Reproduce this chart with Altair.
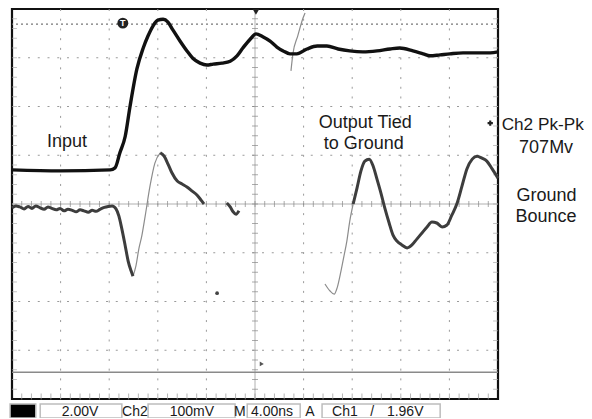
import altair as alt
import pandas as pd

# ---- Ch1 "Input" trace (x in divisions 0..10, y in divisions -4..4)
ch1_x = [0.00, 0.99, 2.02, 2.12, 2.22, 2.33, 2.43, 2.57, 2.70, 2.80, 2.90, 3.00, 3.11, 3.21, 3.31,
         3.46, 3.60, 3.72, 3.87, 4.01, 4.14, 4.32, 4.49, 4.63, 4.75, 4.90, 5.02, 5.16, 5.31, 5.45,
         5.58, 5.72, 5.86, 6.07, 6.28, 6.48, 6.71, 6.95, 7.22, 7.51, 7.78, 7.98, 8.25, 8.46, 8.60,
         8.81, 9.01, 9.28, 9.57, 9.84, 10.00]
ch1_y = [0.70, 0.68, 0.70, 0.74, 1.05, 1.39, 2.01, 2.77, 3.20, 3.45, 3.65, 3.77, 3.79, 3.73, 3.57,
         3.34, 3.14, 2.99, 2.89, 2.85, 2.87, 2.89, 2.93, 3.04, 3.20, 3.38, 3.49, 3.43, 3.34, 3.22,
         3.14, 3.08, 3.08, 3.18, 3.24, 3.24, 3.18, 3.14, 3.12, 3.14, 3.18, 3.20, 3.14, 3.08, 3.04,
         3.06, 3.08, 3.10, 3.10, 3.10, 3.12]

# ---- Ch2 "Ground Bounce" trace, bright (dense) parts
ch2_flat_x = [0.00, 0.08, 0.16, 0.25, 0.33, 0.41, 0.49, 0.58, 0.66, 0.74, 0.82, 0.91, 0.99, 1.07,
              1.15, 1.24, 1.32, 1.40, 1.48, 1.57, 1.65, 1.73, 1.81, 1.90, 1.98, 2.06, 2.14, 2.20,
              2.26, 2.33, 2.39, 2.45, 2.49]
ch2_flat_y = [-0.08, -0.04, -0.06, -0.10, -0.05, -0.09, -0.04, -0.08, -0.11, -0.06, -0.09, -0.12,
              -0.09, -0.14, -0.11, -0.13, -0.16, -0.12, -0.14, -0.17, -0.13, -0.15, -0.11, -0.07,
              -0.05, -0.04, -0.10, -0.25, -0.51, -0.86, -1.17, -1.37, -1.48]
ch2_hump_x = [3.05, 3.13, 3.21, 3.29, 3.40, 3.50, 3.60, 3.70, 3.81, 3.89, 3.95]
ch2_hump_y = [1.05, 0.98, 0.82, 0.64, 0.47, 0.41, 0.35, 0.27, 0.18, 0.08, 0.00]
ch2_blob_x = [4.42, 4.49, 4.55, 4.61, 4.67]
ch2_blob_y = [0.02, -0.06, -0.16, -0.21, -0.14]
ch2_wave_x = [7.02, 7.10, 7.18, 7.26, 7.35, 7.43, 7.51, 7.59, 7.67, 7.76, 7.84, 7.92, 8.02, 8.13,
              8.23, 8.33, 8.44, 8.54, 8.64, 8.74, 8.85, 8.95, 9.05, 9.16, 9.26, 9.36, 9.47, 9.57,
              9.67, 9.77, 9.88, 10.00]
ch2_wave_y = [0.00, 0.33, 0.68, 0.88, 0.92, 0.78, 0.51, 0.23, -0.08, -0.39, -0.64, -0.76, -0.84,
              -0.90, -0.84, -0.72, -0.59, -0.47, -0.37, -0.39, -0.47, -0.43, -0.23, 0.02, 0.37,
              0.72, 0.92, 0.98, 0.94, 0.88, 0.72, 0.53]

# ---- Ch2 faint (fast edge) parts
ch2_rise1_x = [2.49, 2.55, 2.61, 2.67, 2.74, 2.84, 2.94, 3.05]
ch2_rise1_y = [-1.48, -1.27, -0.92, -0.66, -0.25, 0.37, 0.84, 1.05]
ch2_dip2_x = [6.44, 6.54, 6.63, 6.69, 6.77, 6.83, 6.89, 6.95, 7.02]
ch2_dip2_y = [-1.64, -1.78, -1.85, -1.72, -1.37, -1.07, -0.76, -0.35, 0.00]
ch2_spike_x = [5.74, 5.78, 5.88, 5.99, 6.03]
ch2_spike_y = [2.73, 3.08, 3.45, 3.82, 3.92]
ch2_dot_x = [4.22]
ch2_dot_y = [-1.83]

# ---- Annotations
note_text = ["Input", "Output Tied", "to Ground", "Ch2 Pk-Pk", "707Mv", "Ground", "Bounce"]
note_x = [1.13, 7.27, 7.24, 10.92, 10.99, 11.00, 10.99]
note_y = [1.17, 1.56, 1.13, 1.52, 1.05, 0.06, -0.37]
note_size = [18, 18, 18, 17.2, 18, 18, 18]

# ---- Status bar
box_x = [-0.04, 0.58, 2.80, 4.84, 6.38]
box_x2 = [0.49, 2.26, 4.59, 5.93, 8.81]
box_fill = ["black", "white", "white", "white", "white"]
status_text = ["2.00V", "Ch2", "100mV", "M", "4.00ns", "A", "Ch1", "/", "1.96V"]
status_x = [1.40, 2.53, 3.70, 4.69, 5.35, 6.13, 6.85, 7.41, 8.09]

FONT = "Liberation Sans"

xs = alt.Scale(domain=[0, 10], nice=False, zero=False)
ys = alt.Scale(domain=[-4, 4], nice=False, zero=False)
X = lambda f: alt.X(f, type="quantitative", scale=xs, axis=None)
Y = lambda f: alt.Y(f, type="quantitative", scale=ys, axis=None)


def seg_frame(pairs):
    rows = []
    for name, (sx, sy) in pairs.items():
        for a, b in zip(sx, sy):
            rows.append({"seg": name, "x": a, "y": b})
    return pd.DataFrame(rows)


# grid
vgrid = pd.DataFrame({"x": [1, 2, 3, 4, 6, 7, 8, 9]})
hgrid = pd.DataFrame({"y": [-3, -2, -1, 1, 2, 3]})
grid_v = alt.Chart(vgrid).mark_rule(color="#9a9a9a", strokeWidth=1, strokeDash=[2, 7.72]).encode(x=X("x"))
grid_h = alt.Chart(hgrid).mark_rule(color="#9a9a9a", strokeWidth=1, strokeDash=[2, 7.75]).encode(y=Y("y"))
center = pd.DataFrame({"x": [5], "y": [0]})
center_v = alt.Chart(center).mark_rule(color="#b0b0b0", strokeWidth=1).encode(x=X("x"))
center_h = alt.Chart(center).mark_rule(color="#b0b0b0", strokeWidth=1).encode(y=Y("y"))

minor_x = [round(i * 0.2, 2) for i in range(1, 50)]
minor_y = [round(-4 + i * 0.2, 2) for i in range(1, 40)]
tick_h = alt.Chart(pd.DataFrame({"x": minor_x, "y": 0})).mark_tick(
    orient="vertical", color="#888", size=6, thickness=1).encode(x=X("x"), y=Y("y"))
tick_v = alt.Chart(pd.DataFrame({"y": minor_y, "x": 5})).mark_tick(
    orient="horizontal", color="#888", size=6, thickness=1).encode(x=X("x"), y=Y("y"))
tick_b = alt.Chart(pd.DataFrame({"x": minor_x, "y": -3.95})).mark_tick(
    orient="vertical", color="#999", size=6, thickness=1).encode(x=X("x"), y=Y("y"))
tick_l = alt.Chart(pd.DataFrame({"y": minor_y, "x": 0.05})).mark_tick(
    orient="horizontal", color="#aaa", size=5, thickness=1).encode(x=X("x"), y=Y("y"))
tick_r = alt.Chart(pd.DataFrame({"y": minor_y, "x": 9.95})).mark_tick(
    orient="horizontal", color="#aaa", size=5, thickness=1).encode(x=X("x"), y=Y("y"))

# cursor lines
cur = pd.DataFrame({"y": [3.69]})
cursor_top = alt.Chart(cur).mark_rule(color="#777", strokeWidth=1.2, strokeDash=[2, 3]).encode(y=Y("y"))
gnd = pd.DataFrame({"y": [-3.45]})
cursor_bot = alt.Chart(gnd).mark_rule(color="#8a8a8a", strokeWidth=1.5).encode(y=Y("y"))

# traces
ch1 = alt.Chart(pd.DataFrame({"x": ch1_x, "y": ch1_y})).mark_line(
    color="#111", strokeWidth=3.4, interpolate="monotone").encode(x=X("x"), y=Y("y"))

dark = seg_frame({"flat": (ch2_flat_x, ch2_flat_y), "hump": (ch2_hump_x, ch2_hump_y),
                  "blob": (ch2_blob_x, ch2_blob_y), "wave": (ch2_wave_x, ch2_wave_y)})
faint = seg_frame({"rise": (ch2_rise1_x, ch2_rise1_y), "dip": (ch2_dip2_x, ch2_dip2_y),
                   "spike": (ch2_spike_x, ch2_spike_y)})
ch2_dark = alt.Chart(dark).mark_line(color="#3d3d3d", strokeWidth=3, interpolate="monotone").encode(
    x=X("x"), y=Y("y"), detail="seg:N")
ch2_faint = alt.Chart(faint).mark_line(color="#8c8c8c", strokeWidth=1.2, interpolate="monotone").encode(
    x=X("x"), y=Y("y"), detail="seg:N")
ch2_dot = alt.Chart(pd.DataFrame({"x": ch2_dot_x, "y": ch2_dot_y})).mark_point(
    filled=True, color="#444", size=14, opacity=1).encode(x=X("x"), y=Y("y"))

# scope markers
trig = pd.DataFrame({"x": [2.28], "y": [3.71], "t": ["T"]})
trig_pt = alt.Chart(trig).mark_point(filled=True, color="#222", size=120, opacity=1).encode(x=X("x"), y=Y("y"))
trig_t = alt.Chart(trig).mark_text(color="white", fontSize=9, fontWeight="bold", font=FONT,
                                   baseline="middle").encode(x=X("x"), y=Y("y"), text="t:N")
top_mk = alt.Chart(pd.DataFrame({"x": [5.02], "y": [3.94]})).mark_point(
    shape="triangle-down", filled=True, color="#222", size=45, opacity=1).encode(x=X("x"), y=Y("y"))
ref_mk = alt.Chart(pd.DataFrame({"x": [9.84], "y": [1.66]})).mark_point(
    shape="cross", filled=True, color="#222", size=28, opacity=1).encode(x=X("x"), y=Y("y"))
gnd_mk = alt.Chart(pd.DataFrame({"x": [5.14], "y": [-3.28]})).mark_point(
    shape="triangle-right", filled=True, color="#555", size=22, opacity=1).encode(x=X("x"), y=Y("y"))

# annotations
notes = alt.Chart(pd.DataFrame({"t": note_text, "x": note_x, "y": note_y, "s": note_size})).mark_text(
    font=FONT, color="#1a1a1a", align="center", baseline="alphabetic").encode(
    x=X("x"), y=Y("y"), text="t:N", size=alt.Size("s:Q", scale=None, legend=None))

# status bar
boxes = alt.Chart(pd.DataFrame({"x": box_x, "x2": box_x2, "f": box_fill, "y": -4.10, "y2": -4.39})).mark_rect(
    stroke="#bdbdbd", strokeWidth=1.5).encode(
    x=X("x"), x2="x2", y=Y("y"), y2="y2", fill=alt.Fill("f:N", scale=None))
status = alt.Chart(pd.DataFrame({"t": status_text, "x": status_x, "y": -4.35})).mark_text(
    font=FONT, fontSize=14, color="#1a1a1a", align="center", baseline="alphabetic").encode(
    x=X("x"), y=Y("y"), text="t:N")

chart = alt.layer(
    grid_v, grid_h, center_v, center_h, tick_h, tick_v, tick_b, tick_l, tick_r,
    cursor_top, cursor_bot, ch2_faint, ch2_dark, ch2_dot, ch1,
    trig_pt, trig_t, top_mk, ref_mk, gnd_mk, notes, boxes, status
).properties(
    width=486, height=390,
    autosize=alt.AutoSizeParams(type="none"),
    padding={"left": 4, "top": 1, "right": 86, "bottom": 19},
    background="white",
).configure_view(stroke="#111", strokeWidth=2.2)

chart.save("out.html", embed_options={"renderer": "svg", "actions": False})
